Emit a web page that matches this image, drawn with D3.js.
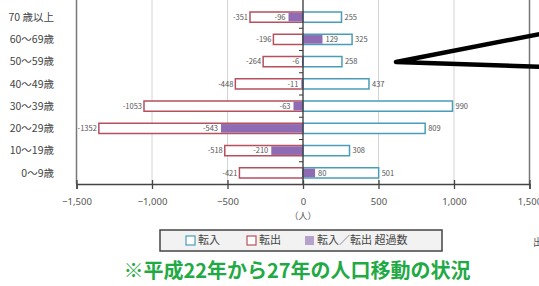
<!DOCTYPE html>
<html>
<head>
<meta charset="utf-8">
<script src="https://cdn.jsdelivr.net/npm/d3@7"></script>
<style>
  html, body { margin: 0; padding: 0; background: #fff; }
  svg { display: block; font-family: "Noto Sans CJK JP", "Noto Sans", sans-serif; }
</style>
</head>
<body>
<div id="chart"></div>
<script>
const ageGroups = ['70 歳以上', '60～69歳', '50～59歳', '40～49歳', '30～39歳', '20～29歳', '10～19歳', '0～9歳']
const inflow = [255, 325, 258, 437, 990, 809, 308, 501]
const outflow = [-351, -196, -264, -448, -1053, -1352, -518, -421]
const netflow = [-96, 129, -6, -11, -63, -543, -210, 80]
const xTicks = [-1500, -1000, -500, 0, 500, 1000, 1500]
const legendLabels = ['転入', '転出', '転入／転出 超過数']
const caption = '※平成22年から27年の人口移動の状況'

const width = 539
const height = 286

const svg = d3.select('#chart').append('svg')
  .attr('width', width)
  .attr('height', height)

const x = d3.scaleLinear().domain([-1500, 1500]).range([76.5, 529.5])
const y = d3.scaleBand().domain(ageGroups).range([6, 184]).paddingInner(0.54).paddingOuter(0.27)
const axisY = 184

// grid lines
svg.append('g')
  .selectAll('line')
  .data(xTicks)
  .join('line')
  .attr('x1', d => x(d)).attr('x2', d => x(d))
  .attr('y1', 0).attr('y2', axisY)
  .attr('stroke', d => (Math.abs(d) === 1500 ? '#777' : '#d4d4d4'))
  .attr('stroke-width', d => (Math.abs(d) === 1500 ? 1.5 : 1))

const rows = ageGroups.map((g, i) => ({ g, inV: inflow[i], outV: outflow[i], net: netflow[i] }))

const bars = svg.append('g')
const barH = y.bandwidth()

// 転出 bars
bars.selectAll('.out')
  .data(rows)
  .join('rect')
  .attr('class', 'out')
  .attr('x', d => x(d.outV))
  .attr('y', d => y(d.g))
  .attr('width', d => x(0) - x(d.outV))
  .attr('height', barH)
  .attr('fill', '#fff')
  .attr('stroke', '#b5505c')
  .attr('stroke-width', 1.5)

// 転入 bars
bars.selectAll('.in')
  .data(rows)
  .join('rect')
  .attr('class', 'in')
  .attr('x', x(0))
  .attr('y', d => y(d.g))
  .attr('width', d => x(d.inV) - x(0))
  .attr('height', barH)
  .attr('fill', '#fff')
  .attr('stroke', '#4a9db8')
  .attr('stroke-width', 1.5)

// 超過数 bars
bars.selectAll('.net')
  .data(rows)
  .join('rect')
  .attr('class', 'net')
  .attr('x', d => Math.min(x(0), x(d.net)))
  .attr('y', d => y(d.g) + 0.8)
  .attr('width', d => Math.abs(x(d.net) - x(0)))
  .attr('height', barH - 1.6)
  .attr('fill', '#8e6bb3')

const labels = svg.append('g')
  .attr('font-size', 7.5)
  .attr('fill', '#555')

labels.selectAll('.outL')
  .data(rows)
  .join('text')
  .attr('x', d => x(d.outV) - 2)
  .attr('y', d => y(d.g) + barH / 2)
  .attr('dy', '0.35em')
  .attr('text-anchor', 'end')
  .text(d => d.outV)

labels.selectAll('.inL')
  .data(rows)
  .join('text')
  .attr('x', d => x(d.inV) + 3)
  .attr('y', d => y(d.g) + barH / 2)
  .attr('dy', '0.35em')
  .text(d => d.inV)

labels.selectAll('.netL')
  .data(rows)
  .join('text')
  .attr('x', d => (d.net < 0 ? x(d.net) - 3 : x(d.net) + 3))
  .attr('y', d => y(d.g) + barH / 2)
  .attr('dy', '0.35em')
  .attr('text-anchor', d => (d.net < 0 ? 'end' : 'start'))
  .text(d => d.net)

// zero line with small ticks at band boundaries
svg.append('line')
  .attr('x1', x(0)).attr('x2', x(0))
  .attr('y1', 0).attr('y2', axisY)
  .attr('stroke', '#333').attr('stroke-width', 1.2)

svg.append('g')
  .selectAll('line')
  .data(ageGroups.slice(1))
  .join('line')
  .attr('x1', x(0) - 4).attr('x2', x(0))
  .attr('y1', d => y(d) - y.step() * y.paddingInner() / 2)
  .attr('y2', d => y(d) - y.step() * y.paddingInner() / 2)
  .attr('stroke', '#333')

// category labels
svg.append('g')
  .selectAll('text')
  .data(ageGroups)
  .join('text')
  .attr('x', 54)
  .attr('y', d => y(d) + barH / 2)
  .attr('dy', '0.35em')
  .attr('text-anchor', 'end')
  .attr('font-size', 10.5)
  .attr('fill', '#444')
  .text(d => d)

// bottom axis
const xAxis = d3.axisBottom(x)
  .tickValues(xTicks)
  .tickSize(5)
  .tickPadding(9)
  .tickFormat(d3.format(','))

const axisG = svg.append('g')
  .attr('transform', `translate(0,${axisY})`)
  .call(xAxis)
axisG.select('.domain').attr('stroke', '#444').attr('stroke-width', 1.5)
axisG.selectAll('.tick line').attr('stroke', '#444').attr('y1', -4).attr('stroke-width', 1.3)
axisG.selectAll('.tick text')
  .attr('font-size', 9.5)
  .attr('fill', '#555')
  .attr('font-family', '"Noto Sans", sans-serif')

svg.append('text')
  .attr('x', x(0))
  .attr('y', 219)
  .attr('text-anchor', 'middle')
  .attr('font-size', 9)
  .attr('fill', '#555')
  .text('（人）')

// legend
const legend = svg.append('g')
legend.append('rect')
  .attr('x', 160).attr('y', 230)
  .attr('width', 282).attr('height', 21)
  .attr('fill', '#f2f2f2')
  .attr('stroke', '#444')
  .attr('stroke-width', 1.5)

const legendX = [186, 247, 305]
const legendStyle = [
  { fill: '#fff', stroke: '#4a9db8' },
  { fill: '#fff', stroke: '#b5505c' },
  { fill: '#b4a2cc', stroke: 'none' }
]
const items = legend.selectAll('g')
  .data(legendLabels)
  .join('g')
  .attr('transform', (d, i) => `translate(${legendX[i]},240.5)`)
items.append('rect')
  .attr('x', 0).attr('y', -4.5)
  .attr('width', 9).attr('height', 9)
  .attr('fill', (d, i) => legendStyle[i].fill)
  .attr('stroke', (d, i) => legendStyle[i].stroke)
  .attr('stroke-width', 1.2)
items.append('text')
  .attr('x', 12)
  .attr('dy', '0.35em')
  .attr('font-size', 11)
  .attr('fill', '#444')
  .text(d => d)

// caption
svg.append('text')
  .attr('x', 297)
  .attr('y', 278)
  .attr('text-anchor', 'middle')
  .attr('font-size', 20)
  .attr('font-weight', 'bold')
  .attr('fill', '#1faa45')
  .text(caption)

// callout pointer
svg.append('path')
  .attr('d', 'M545,33 L396,62 L545,67')
  .attr('fill', 'none')
  .attr('stroke', '#000')
  .attr('stroke-width', 4.5)
  .attr('stroke-linejoin', 'round')
  .attr('stroke-linecap', 'round')

svg.append('text')
  .attr('x', 533)
  .attr('y', 246)
  .attr('font-size', 10)
  .attr('fill', '#555')
  .text('出')
</script>
</body>
</html>
